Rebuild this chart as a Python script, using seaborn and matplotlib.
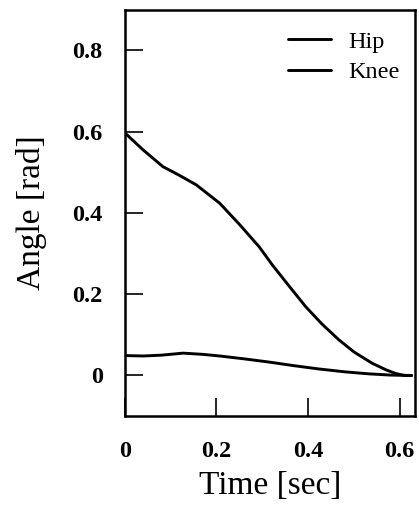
import pandas as pd
import matplotlib
matplotlib.use("Agg")
import matplotlib.pyplot as plt
import seaborn as sns

# --- Data ---
hip_time = [0.0, 0.04, 0.083, 0.12, 0.156, 0.207, 0.25, 0.293, 0.322, 0.36,
            0.395, 0.43, 0.467, 0.50, 0.54, 0.57, 0.591, 0.61, 0.626]
hip_angle = [0.597, 0.555, 0.514, 0.492, 0.469, 0.424, 0.372, 0.317, 0.272, 0.218,
             0.169, 0.127, 0.088, 0.058, 0.030, 0.014, 0.005, 0.0, 0.0]

knee_time = [0.0, 0.04, 0.08, 0.127, 0.17, 0.207, 0.26, 0.315, 0.37, 0.424,
             0.48, 0.533, 0.58, 0.626]
knee_angle = [0.049, 0.048, 0.050, 0.055, 0.052, 0.048, 0.041, 0.033, 0.024, 0.016,
              0.009, 0.004, 0.001, 0.0]

x_ticks = [0, 0.2, 0.4, 0.6]
x_tick_labels = ["0", "0.2", "0.4", "0.6"]
y_ticks = [0, 0.2, 0.4, 0.6, 0.8]
y_tick_labels = ["0", "0.2", "0.4", "0.6", "0.8"]

df = pd.DataFrame({
    "Time": hip_time + knee_time,
    "Angle": hip_angle + knee_angle,
    "Joint": ["Hip"] * len(hip_time) + ["Knee"] * len(knee_time),
})

# --- Plot ---
sns.set_theme(style="white")
plt.rcParams["font.family"] = ["Liberation Serif", "DejaVu Serif"]
plt.rcParams["text.color"] = "black"
plt.rcParams["axes.labelcolor"] = "black"
plt.rcParams["xtick.color"] = "black"
plt.rcParams["ytick.color"] = "black"

fig, ax = plt.subplots(figsize=(4.19, 5.15), dpi=100)
fig.subplots_adjust(left=0.298, right=0.990, bottom=0.192, top=0.981)

sns.lineplot(data=df, x="Time", y="Angle", hue="Joint", sort=False,
             palette=["black", "black"], linewidth=2.1, ax=ax)

ax.set_xlim(0, 0.633)
ax.set_ylim(-0.1, 0.9)
ax.set_xticks(x_ticks)
ax.set_xticklabels(x_tick_labels, fontsize=17.5, fontweight="bold")
ax.set_yticks(y_ticks)
ax.set_yticklabels(y_tick_labels, fontsize=17.5, fontweight="bold")
ax.tick_params(axis="both", direction="in", length=13, width=1.2,
               color="black", labelcolor="black", bottom=True, left=True,
               top=False, right=False)
ax.tick_params(axis="y", pad=16)
ax.tick_params(axis="x", pad=18)

for side in ax.spines.values():
    side.set_color("black")
    side.set_linewidth(1.8)

ax.set_xlabel("Time [sec]", fontsize=24, labelpad=6, color="black")
ax.set_ylabel("Angle [rad]", fontsize=24, labelpad=18, color="black")

leg = ax.legend(loc="upper right", bbox_to_anchor=(1.0, 0.985), frameon=False,
                fontsize=17.5, title=None, handlelength=1.77, handletextpad=0.7,
                labelspacing=0.35, borderaxespad=0.22)
for t in leg.get_texts():
    t.set_color("black")

fig.savefig("out.png", dpi=100)
